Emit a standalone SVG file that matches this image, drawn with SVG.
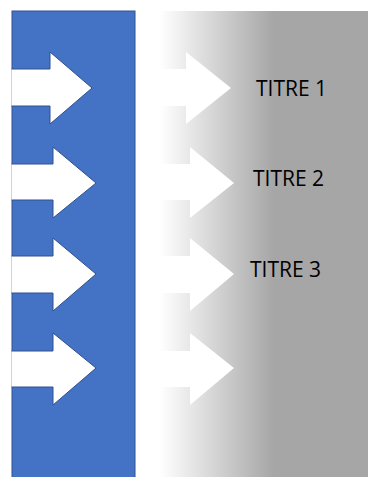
<svg xmlns="http://www.w3.org/2000/svg" width="368" height="477" viewBox="0 0 368 477">
<defs>
<linearGradient id="g" x1="160" y1="0" x2="274" y2="0" gradientUnits="userSpaceOnUse">
<stop offset="0" stop-color="#FFFFFF"/>
<stop offset="1" stop-color="#A6A6A6"/>
</linearGradient>
<style>
.ba{fill:#FFFFFF;stroke:#2F528F;stroke-width:1}
.ga{fill:#FFFFFF}
.t{font-family:"Open Sans",sans-serif;font-size:21px;fill:#000000}
</style>
</defs>
<rect width="368" height="477" fill="#FFFFFF"/>
<g id="left-panel">
<rect x="12" y="11" width="123" height="470" fill="#4472C4" stroke="#2F528F" stroke-width="1"/>
<path class="ba" d="M11.5,69 L50,69 L50,52 L92,88 L50,124 L50,106 L11.5,106"/>
<path class="ba" d="M11.5,164 L53,164 L53,147 L96,183 L53,218 L53,200 L11.5,200"/>
<path class="ba" d="M11.5,256 L53,256 L53,238 L96,274 L53,311 L53,293 L11.5,293"/>
<path class="ba" d="M11.5,351 L53,351 L53,333 L96,368 L53,405 L53,387 L11.5,387"/>
</g>
<g id="right-panel">
<rect x="160" y="11" width="208" height="466" fill="url(#g)"/>
<path class="ga" d="M159,69 L186,69 L186,52 L231,88 L186,124 L186,106 L159,106Z"/>
<path class="ga" d="M159,164 L190,164 L190,147 L234,183 L190,218 L190,200 L159,200Z"/>
<path class="ga" d="M159,256 L190,256 L190,238 L234,274 L190,311 L190,293 L159,293Z"/>
<path class="ga" d="M159,351 L190,351 L190,333 L234,368 L190,405 L190,387 L159,387Z"/>
</g>
<g id="titre1"><text class="t" x="256" y="95.5">TITRE 1</text></g>
<g id="titre2"><text class="t" x="253" y="186">TITRE 2</text></g>
<g id="titre3"><text class="t" x="250" y="277">TITRE 3</text></g>
<g id="connectors"></g>
</svg>
